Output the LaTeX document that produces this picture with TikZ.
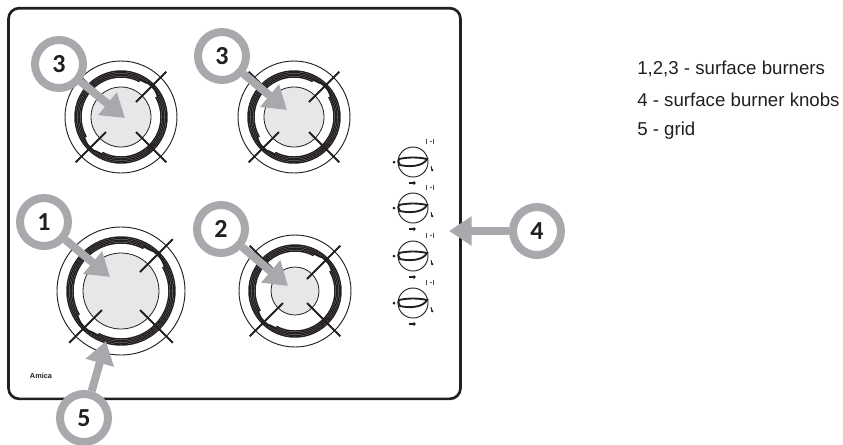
\documentclass[tikz,border=0pt]{standalone}
\usepackage{fontspec}
\setmainfont{Liberation Sans}
\newfontfamily\callfont{Carlito}
\usetikzlibrary{arrows.meta}

\definecolor{callgray}{RGB}{167,169,172}
\definecolor{discgray}{RGB}{230,231,232}
\definecolor{linedark}{RGB}{35,31,32}

\tikzset{
  callout/.style = {circle, draw=callgray, fill=white, line width=6pt, minimum size=36pt, inner sep=0pt, font=\callfont\bfseries\fontsize{19.5}{20}\selectfont, text=linedark},
  pointer/.style = {draw=callgray, line width=6pt, -{Triangle[length=17pt,width=21pt]}},
  legend/.style = {anchor=west, inner sep=0pt, font=\fontsize{14}{16}\selectfont, text=linedark},
  % first value = disc radius, second value = outer ring radius
  pics/burner/.style 2 args = {code = {
    \fill[discgray] (0,0) circle (#1);
    \draw[linedark, line width=0.6pt] (0,0) circle (#1);
    \draw[linedark, line width=0.7pt] (0,0) circle (#2);
    \foreach \rr in {-3,-1.5,0,1.5,3}
      \draw[linedark, line width=1.1pt] (0,0) circle ({#2-13+\rr});
    % the two lobes of the ring
    \draw[white, line width=3.5pt] (-30:{#2-16}) arc (-30:-62:{#2-16});
    \draw[white, line width=3.5pt] (150:{#2-16}) arc (150:118:{#2-16});
    \draw[linedark, line width=1.4pt] plot[smooth] coordinates {(-64:{#2-14}) (-54:{#2-13.5}) (-46:{#2-11}) (-38:{#2-12.5}) (-28:{#2-14})};
    \draw[linedark, line width=1.4pt] plot[smooth] coordinates {(116:{#2-14}) (126:{#2-13.5}) (134:{#2-11}) (142:{#2-12.5}) (152:{#2-14})};
    \foreach \sx/\sy in {1/-1, 1/1, -1/1, -1/-1}
      \draw[linedark, line width=1.4pt] ({\sx*#1*0.5},{\sy*#1*0.5}) -- ({\sx*#2*0.81},{\sy*#2*0.81});
  }},
  pics/knob/.style = {code = {
    \draw[linedark, line width=0.7pt] (0,0) circle (15);
    \draw[linedark, line width=1.4pt] (-14,-3) .. controls (-5,-5) and (5,-5) .. (14,-3) .. controls (10,5) and (-5,5) .. (-13,3) .. controls (-15,1) and (-15,-2) .. (-14,-3);
    \fill[linedark] (-19,0) circle (1.5);
    \draw[linedark, line width=0.7pt] (18,4) -- (19,8);
    \fill[linedark] (19.2,8) circle (1.3);
    \fill[linedark] (1,21) circle (1.8);
    \draw[linedark, line width=0.8pt] (-4,21) -- (1,21);
    \draw[linedark!80, line width=0.5pt] (13,-23) -- (13,-18) (20,-23) -- (20,-18);
    \fill[linedark!80] (18,-20.5) circle (0.8);
  }}
}

\begin{document}
\begin{tikzpicture}[x=0.75pt, y=-0.75pt]
  \useasboundingbox (0,0) rectangle (843,444);
  \node[draw=linedark, line width=2pt, rounded corners=8pt, minimum width=339pt, minimum height=293pt, inner sep=0pt] (panel) at (234.5,203.5) {};
  \pic at (121,117) {burner={30}{56}};
  \pic at (294,117) {burner={30}{56}};
  \pic at (121,291) {burner={38}{64}};
  \pic at (295,291) {burner={24}{56}};
  \foreach \knoby in {162,208,256,303}
    \pic at (413,\knoby) {knob};
  \node[inner sep=0pt, font=\bfseries\fontsize{5.5}{6}\selectfont, text=linedark] (brand) at (41,376) {Amica};
  \coordinate (tipa) at (125,118);
  \coordinate (tipb) at (287,110);
  \coordinate (tipc) at (110,277);
  \coordinate (tipd) at (288,286);
  \coordinate (tipe) at (449,231);
  \coordinate (tipf) at (106,341);
  \node[callout] (calla) at (59,64) {3};
  \node[callout] (callb) at (222,56) {3};
  \node[callout] (callc) at (44,222) {1};
  \node[callout] (calld) at (221,229) {2};
  \node[callout] (calle) at (537,231) {4};
  \node[callout] (callf) at (84,418) {5};
  \draw[pointer] (calla) -- (tipa);
  \draw[pointer] (callb) -- (tipb);
  \draw[pointer] (callc) -- (tipc);
  \draw[pointer] (calld) -- (tipd);
  \draw[pointer] (calle) -- (tipe);
  \draw[pointer] (callf) -- (tipf);
  \node[legend] (lega) at (637,69) {1,2,3 - surface burners};
  \node[legend] (legb) at (637,100) {4 - surface burner knobs};
  \node[legend] (legc) at (637,131) {5 - grid};
\end{tikzpicture}
\end{document}
